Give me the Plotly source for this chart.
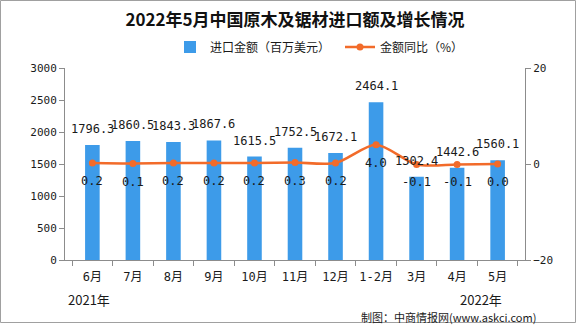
import plotly.graph_objects as go

categories = ["6月", "7月", "8月", "9月", "10月", "11月", "12月", "1-2月", "3月", "4月", "5月"]
amount = [1796.3, 1860.5, 1843.3, 1867.6, 1615.5, 1752.5, 1672.1, 2464.1, 1302.4, 1442.6, 1560.1]
yoy = [0.2, 0.1, 0.2, 0.2, 0.2, 0.3, 0.2, 4.0, -0.1, -0.1, 0.0]
amount_labels = ["1796.3", "1860.5", "1843.3", "1867.6", "1615.5", "1752.5", "1672.1", "2464.1", "1302.4", "1442.6", "1560.1"]
yoy_labels = ["0.2", "0.1", "0.2", "0.2", "0.2", "0.3", "0.2", "4.0", "-0.1", "-0.1", "0.0"]
left_ticks = [0, 500, 1000, 1500, 2000, 2500, 3000]
right_ticks = [-20, 0, 20]

BLUE = "#3D9BE9"
ORANGE = "#F26B2A"
AXIS = "#8C8C8C"
NUM_FONT = "DejaVu Sans Mono, Noto Sans CJK SC"
CJK_FONT = "Noto Sans CJK SC"

fig = go.Figure()
fig.add_trace(go.Bar(
    x=categories, y=amount, name="进口金额（百万美元）",
    marker=dict(color=BLUE, line=dict(width=0)), width=0.36, yaxis="y",
))
fig.add_trace(go.Scatter(
    x=categories, y=yoy, name="金额同比（%）", yaxis="y2",
    mode="lines+markers", line=dict(color=ORANGE, width=2.6, shape="spline", smoothing=0.8),
    marker=dict(color=ORANGE, size=7),
))

annotations = []
for c, v, t in zip(categories, amount, amount_labels):
    annotations.append(dict(x=c, y=v, xref="x", yref="y", text=t, showarrow=False,
                            yshift=16, font=dict(family=NUM_FONT, size=12, color="#1a1a1a")))
for c, v, t in zip(categories, yoy, yoy_labels):
    annotations.append(dict(x=c, y=v, xref="x", yref="y2", text=t, showarrow=False,
                            yshift=-18, font=dict(family=NUM_FONT, size=12, color="#1a1a1a")))

W, H = 576, 326
L, R, T, B = 65, 51, 68, 66
pw, ph = W - L - R, H - T - B

def px(xp):
    return (xp - L) / pw

def py(yp):
    return (H - B - yp) / ph

annotations += [
    dict(x=px(66), y=py(299), xref="paper", yref="paper", text="2021年", showarrow=False,
         xanchor="left", yanchor="middle", font=dict(family=CJK_FONT, size=13, color="#1a1a1a")),
    dict(x=px(458), y=py(299), xref="paper", yref="paper", text="2022年", showarrow=False,
         xanchor="left", yanchor="middle", font=dict(family=CJK_FONT, size=13, color="#1a1a1a")),
    dict(x=px(538), y=py(317), xref="paper", yref="paper", text="制图：中商情报网(www.askci.com)",
         showarrow=False, xanchor="right", yanchor="middle",
         font=dict(family=CJK_FONT, size=11, color="#1a1a1a")),
]

fig.update_layout(
    width=W, height=H,
    margin=dict(l=L, r=R, t=T, b=B, pad=0),
    paper_bgcolor="white", plot_bgcolor="white",
    title=dict(text="<b>2022年5月中国原木及锯材进口额及增长情况</b>", x=0.5, xref="paper",
               y=1 - 20 / H, yanchor="middle", xanchor="center",
               font=dict(family=CJK_FONT, size=17, color="#111111")),
    showlegend=True,
    legend=dict(orientation="h", x=px(170), y=py(47), xanchor="left", yanchor="middle",
                font=dict(family=CJK_FONT, size=12, color="#1a1a1a"),
                bgcolor="rgba(0,0,0,0)", itemwidth=30, tracegroupgap=0,
                entrywidth=125, entrywidthmode="pixels"),
    xaxis=dict(type="category", showline=True, linecolor=AXIS, linewidth=1,
               ticks="outside", tickson="boundaries", ticklen=5, tickcolor=AXIS,
               tickangle=0, showgrid=False, ticklabelstandoff=6,
               tickfont=dict(family=NUM_FONT, size=12, color="#1a1a1a")),
    yaxis=dict(range=[0, 3000], tickvals=left_ticks, showline=True, linecolor=AXIS, linewidth=1,
               ticks="outside", ticklen=5, tickcolor=AXIS, showgrid=False, zeroline=False,
               tickfont=dict(family=NUM_FONT, size=11, color="#1a1a1a")),
    yaxis2=dict(range=[-20, 20], tickvals=right_ticks, overlaying="y", side="right",
                showline=True, linecolor=AXIS, linewidth=1, ticks="outside", ticklen=5,
                tickcolor=AXIS, showgrid=False, zeroline=False,
                tickfont=dict(family=NUM_FONT, size=11, color="#1a1a1a")),
    bargap=0.64,
    annotations=annotations,
    shapes=[dict(type="rect", xref="paper", yref="paper",
                 x0=px(0.5), x1=px(575.5), y0=py(322.5), y1=py(0.5),
                 line=dict(color="#A0A0A0", width=1), fillcolor="rgba(0,0,0,0)", layer="below")],
)

fig.write_html("out.html")
